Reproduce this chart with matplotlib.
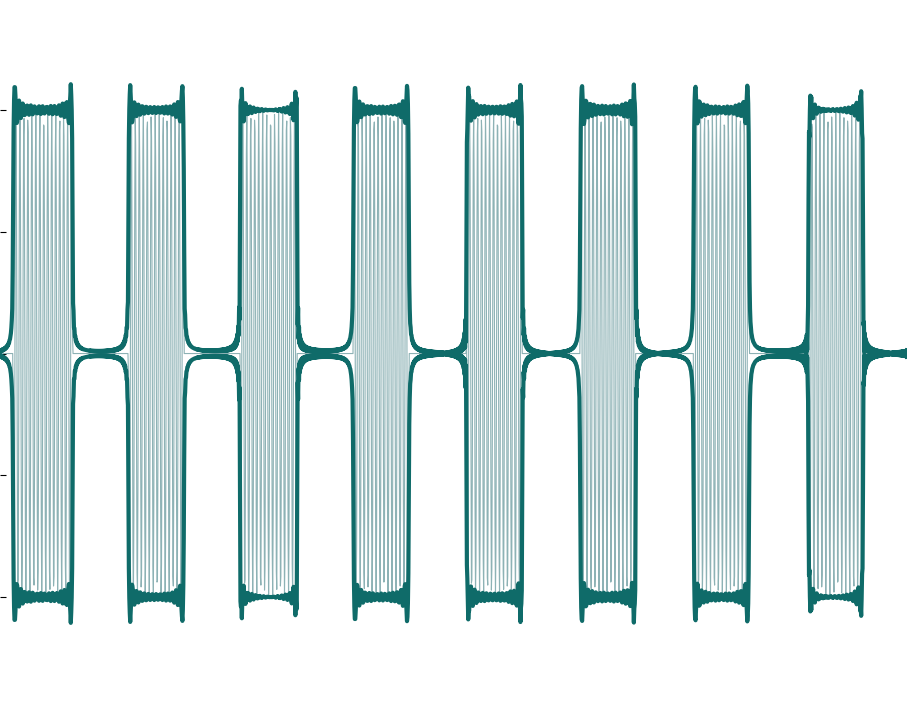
import numpy as np
import matplotlib
matplotlib.use("Agg")
import matplotlib.pyplot as plt

# burst on/off times (s) (0..1 s across the width)
burst_start = [0.0143, 0.1411, 0.2646, 0.3892, 0.5138, 0.6395, 0.7641, 0.8909]
burst_end = [0.0805, 0.2029, 0.3275, 0.4509, 0.5755, 0.7001, 0.8258, 0.9515]
carrier_hz = 228.0
amplitude = 1.0
fs = 2000
duration = 1.0
yticks = [-1.0, -0.5, 0.0, 0.5, 1.0]

t = np.arange(int(fs * duration)) / fs

gate = np.zeros_like(t)
for s, e in zip(burst_start, burst_end):
    gate[(t >= s) & (t < e)] = 1.0

signal = amplitude * gate * np.cos(2 * np.pi * carrier_hz * t)


def analytic(x):
    # hilbert transform via fft
    n = len(x)
    X = np.fft.fft(x)
    h = np.zeros(n)
    h[0] = 1
    if n % 2 == 0:
        h[n // 2] = 1
        h[1:n // 2] = 2
    else:
        h[1:(n + 1) // 2] = 2
    return np.fft.ifft(X * h)


envelope = np.abs(analytic(signal))

fig = plt.figure(figsize=(9.07, 7.05), dpi=100)
ax = fig.add_axes([0, 0, 1, 1])

env_color = "#0f6b69"
sig_color = "#8db2b5"

ax.plot(t, signal, color=sig_color, lw=0.8)
ax.plot(t, envelope, color=env_color, lw=3)
ax.plot(t, -envelope, color=env_color, lw=3)

ax.set_xlim(t[0], t[-1])
ax.set_ylim(-1.4435, 1.452)
ax.set_yticks(yticks)
ax.tick_params(axis="y", direction="in", length=4.5, width=0.8, labelleft=False)
ax.set_xticks([])
for sp in ax.spines.values():
    sp.set_visible(False)

fig.savefig("out.png", dpi=100)
